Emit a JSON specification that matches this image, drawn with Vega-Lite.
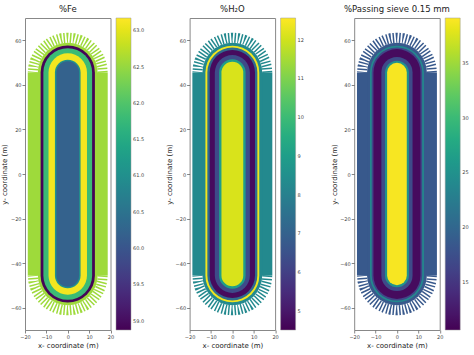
{
  "$schema": "https://vega.github.io/schema/vega-lite/v6.json",
  "padding": {"left": 0, "top": 4, "right": 0, "bottom": 0},
  "datasets": {
    "outer": [
      {"p": "Fe", "x": 0, "y": -45.5, "y2": 45.5, "d": 37.4, "v": 62.55},
      {"p": "H2O", "x": 0, "y": -45.5, "y2": 45.5, "d": 37.4, "v": 8.3},
      {"p": "PS", "x": 0, "y": -45.5, "y2": 45.5, "d": 37.4, "v": 18.5}
    ],
    "bands": [
      {"p": "Fe", "x": 0, "y": -45.5, "y2": 45.5, "d": 28, "v": 62.55},
      {"p": "Fe", "x": 0, "y": -45.5, "y2": 45.5, "d": 25.4, "v": 58.9},
      {"p": "Fe", "x": 0, "y": -45.5, "y2": 45.5, "d": 22.8, "v": 61.8},
      {"p": "Fe", "x": 0, "y": -45.5, "y2": 45.5, "d": 18, "v": 63.1},
      {"p": "Fe", "x": 0, "y": -45.5, "y2": 45.5, "d": 12, "v": 61.0},
      {"p": "Fe", "x": 0, "y": -45.5, "y2": 45.5, "d": 10.6, "v": 60.2},
      {"p": "H2O", "x": 0, "y": -45.5, "y2": 45.5, "d": 28, "v": 8.3},
      {"p": "H2O", "x": 0, "y": -45.5, "y2": 45.5, "d": 25.2, "v": 12.4},
      {"p": "H2O", "x": 0, "y": -45.5, "y2": 45.5, "d": 23.4, "v": 7.3},
      {"p": "H2O", "x": 0, "y": -45.5, "y2": 45.5, "d": 21.2, "v": 4.7},
      {"p": "H2O", "x": 0, "y": -45.5, "y2": 45.5, "d": 16.4, "v": 6.3},
      {"p": "H2O", "x": 0, "y": -45.5, "y2": 45.5, "d": 12.4, "v": 9.0},
      {"p": "H2O", "x": 0, "y": -45.5, "y2": 45.5, "d": 10.2, "v": 12.1},
      {"p": "PS", "x": 0, "y": -45.5, "y2": 45.5, "d": 28, "v": 18.5},
      {"p": "PS", "x": 0, "y": -45.5, "y2": 45.5, "d": 25.2, "v": 24},
      {"p": "PS", "x": 0, "y": -45.5, "y2": 45.5, "d": 23.6, "v": 16.5},
      {"p": "PS", "x": 0, "y": -45.5, "y2": 45.5, "d": 22, "v": 11.3},
      {"p": "PS", "x": 0, "y": -45.5, "y2": 45.5, "d": 14.6, "v": 17},
      {"p": "PS", "x": 0, "y": -45.5, "y2": 45.5, "d": 11.2, "v": 25},
      {"p": "PS", "x": 0, "y": -45.5, "y2": 45.5, "d": 9.2, "v": 38.8}
    ],
    "arcs": [
      {"p": "Fe", "e": "t", "i": 0, "x": 16.35, "y": 45.5, "v": 62.55},
      {"p": "Fe", "e": "t", "i": 1, "x": 16.1, "y": 48.22, "v": 62.55},
      {"p": "Fe", "e": "t", "i": 2, "x": 15.36, "y": 50.86, "v": 62.55},
      {"p": "Fe", "e": "t", "i": 3, "x": 14.16, "y": 53.34, "v": 62.55},
      {"p": "Fe", "e": "t", "i": 4, "x": 12.52, "y": 55.58, "v": 62.55},
      {"p": "Fe", "e": "t", "i": 5, "x": 10.51, "y": 57.51, "v": 62.55},
      {"p": "Fe", "e": "t", "i": 6, "x": 8.18, "y": 59.08, "v": 62.55},
      {"p": "Fe", "e": "t", "i": 7, "x": 5.59, "y": 60.23, "v": 62.55},
      {"p": "Fe", "e": "t", "i": 8, "x": 2.84, "y": 60.94, "v": 62.55},
      {"p": "Fe", "e": "t", "i": 9, "x": 0, "y": 61.18, "v": 62.55},
      {"p": "Fe", "e": "t", "i": 10, "x": -2.84, "y": 60.94, "v": 62.55},
      {"p": "Fe", "e": "t", "i": 11, "x": -5.59, "y": 60.23, "v": 62.55},
      {"p": "Fe", "e": "t", "i": 12, "x": -8.18, "y": 59.08, "v": 62.55},
      {"p": "Fe", "e": "t", "i": 13, "x": -10.51, "y": 57.51, "v": 62.55},
      {"p": "Fe", "e": "t", "i": 14, "x": -12.52, "y": 55.58, "v": 62.55},
      {"p": "Fe", "e": "t", "i": 15, "x": -14.16, "y": 53.34, "v": 62.55},
      {"p": "Fe", "e": "t", "i": 16, "x": -15.36, "y": 50.86, "v": 62.55},
      {"p": "Fe", "e": "t", "i": 17, "x": -16.1, "y": 48.22, "v": 62.55},
      {"p": "Fe", "e": "t", "i": 18, "x": -16.35, "y": 45.5, "v": 62.55},
      {"p": "Fe", "e": "b", "i": 0, "x": 16.35, "y": -45.5, "v": 62.55},
      {"p": "Fe", "e": "b", "i": 1, "x": 16.1, "y": -48.22, "v": 62.55},
      {"p": "Fe", "e": "b", "i": 2, "x": 15.36, "y": -50.86, "v": 62.55},
      {"p": "Fe", "e": "b", "i": 3, "x": 14.16, "y": -53.34, "v": 62.55},
      {"p": "Fe", "e": "b", "i": 4, "x": 12.52, "y": -55.58, "v": 62.55},
      {"p": "Fe", "e": "b", "i": 5, "x": 10.51, "y": -57.51, "v": 62.55},
      {"p": "Fe", "e": "b", "i": 6, "x": 8.18, "y": -59.08, "v": 62.55},
      {"p": "Fe", "e": "b", "i": 7, "x": 5.59, "y": -60.23, "v": 62.55},
      {"p": "Fe", "e": "b", "i": 8, "x": 2.84, "y": -60.94, "v": 62.55},
      {"p": "Fe", "e": "b", "i": 9, "x": 0, "y": -61.18, "v": 62.55},
      {"p": "Fe", "e": "b", "i": 10, "x": -2.84, "y": -60.94, "v": 62.55},
      {"p": "Fe", "e": "b", "i": 11, "x": -5.59, "y": -60.23, "v": 62.55},
      {"p": "Fe", "e": "b", "i": 12, "x": -8.18, "y": -59.08, "v": 62.55},
      {"p": "Fe", "e": "b", "i": 13, "x": -10.51, "y": -57.51, "v": 62.55},
      {"p": "Fe", "e": "b", "i": 14, "x": -12.52, "y": -55.58, "v": 62.55},
      {"p": "Fe", "e": "b", "i": 15, "x": -14.16, "y": -53.34, "v": 62.55},
      {"p": "Fe", "e": "b", "i": 16, "x": -15.36, "y": -50.86, "v": 62.55},
      {"p": "Fe", "e": "b", "i": 17, "x": -16.1, "y": -48.22, "v": 62.55},
      {"p": "Fe", "e": "b", "i": 18, "x": -16.35, "y": -45.5, "v": 62.55},
      {"p": "H2O", "e": "t", "i": 0, "x": 16.35, "y": 45.5, "v": 8.3},
      {"p": "H2O", "e": "t", "i": 1, "x": 16.1, "y": 48.22, "v": 8.3},
      {"p": "H2O", "e": "t", "i": 2, "x": 15.36, "y": 50.86, "v": 8.3},
      {"p": "H2O", "e": "t", "i": 3, "x": 14.16, "y": 53.34, "v": 8.3},
      {"p": "H2O", "e": "t", "i": 4, "x": 12.52, "y": 55.58, "v": 8.3},
      {"p": "H2O", "e": "t", "i": 5, "x": 10.51, "y": 57.51, "v": 8.3},
      {"p": "H2O", "e": "t", "i": 6, "x": 8.18, "y": 59.08, "v": 8.3},
      {"p": "H2O", "e": "t", "i": 7, "x": 5.59, "y": 60.23, "v": 8.3},
      {"p": "H2O", "e": "t", "i": 8, "x": 2.84, "y": 60.94, "v": 8.3},
      {"p": "H2O", "e": "t", "i": 9, "x": 0, "y": 61.18, "v": 8.3},
      {"p": "H2O", "e": "t", "i": 10, "x": -2.84, "y": 60.94, "v": 8.3},
      {"p": "H2O", "e": "t", "i": 11, "x": -5.59, "y": 60.23, "v": 8.3},
      {"p": "H2O", "e": "t", "i": 12, "x": -8.18, "y": 59.08, "v": 8.3},
      {"p": "H2O", "e": "t", "i": 13, "x": -10.51, "y": 57.51, "v": 8.3},
      {"p": "H2O", "e": "t", "i": 14, "x": -12.52, "y": 55.58, "v": 8.3},
      {"p": "H2O", "e": "t", "i": 15, "x": -14.16, "y": 53.34, "v": 8.3},
      {"p": "H2O", "e": "t", "i": 16, "x": -15.36, "y": 50.86, "v": 8.3},
      {"p": "H2O", "e": "t", "i": 17, "x": -16.1, "y": 48.22, "v": 8.3},
      {"p": "H2O", "e": "t", "i": 18, "x": -16.35, "y": 45.5, "v": 8.3},
      {"p": "H2O", "e": "b", "i": 0, "x": 16.35, "y": -45.5, "v": 8.3},
      {"p": "H2O", "e": "b", "i": 1, "x": 16.1, "y": -48.22, "v": 8.3},
      {"p": "H2O", "e": "b", "i": 2, "x": 15.36, "y": -50.86, "v": 8.3},
      {"p": "H2O", "e": "b", "i": 3, "x": 14.16, "y": -53.34, "v": 8.3},
      {"p": "H2O", "e": "b", "i": 4, "x": 12.52, "y": -55.58, "v": 8.3},
      {"p": "H2O", "e": "b", "i": 5, "x": 10.51, "y": -57.51, "v": 8.3},
      {"p": "H2O", "e": "b", "i": 6, "x": 8.18, "y": -59.08, "v": 8.3},
      {"p": "H2O", "e": "b", "i": 7, "x": 5.59, "y": -60.23, "v": 8.3},
      {"p": "H2O", "e": "b", "i": 8, "x": 2.84, "y": -60.94, "v": 8.3},
      {"p": "H2O", "e": "b", "i": 9, "x": 0, "y": -61.18, "v": 8.3},
      {"p": "H2O", "e": "b", "i": 10, "x": -2.84, "y": -60.94, "v": 8.3},
      {"p": "H2O", "e": "b", "i": 11, "x": -5.59, "y": -60.23, "v": 8.3},
      {"p": "H2O", "e": "b", "i": 12, "x": -8.18, "y": -59.08, "v": 8.3},
      {"p": "H2O", "e": "b", "i": 13, "x": -10.51, "y": -57.51, "v": 8.3},
      {"p": "H2O", "e": "b", "i": 14, "x": -12.52, "y": -55.58, "v": 8.3},
      {"p": "H2O", "e": "b", "i": 15, "x": -14.16, "y": -53.34, "v": 8.3},
      {"p": "H2O", "e": "b", "i": 16, "x": -15.36, "y": -50.86, "v": 8.3},
      {"p": "H2O", "e": "b", "i": 17, "x": -16.1, "y": -48.22, "v": 8.3},
      {"p": "H2O", "e": "b", "i": 18, "x": -16.35, "y": -45.5, "v": 8.3},
      {"p": "PS", "e": "t", "i": 0, "x": 16.35, "y": 45.5, "v": 18.5},
      {"p": "PS", "e": "t", "i": 1, "x": 16.1, "y": 48.22, "v": 18.5},
      {"p": "PS", "e": "t", "i": 2, "x": 15.36, "y": 50.86, "v": 18.5},
      {"p": "PS", "e": "t", "i": 3, "x": 14.16, "y": 53.34, "v": 18.5},
      {"p": "PS", "e": "t", "i": 4, "x": 12.52, "y": 55.58, "v": 18.5},
      {"p": "PS", "e": "t", "i": 5, "x": 10.51, "y": 57.51, "v": 18.5},
      {"p": "PS", "e": "t", "i": 6, "x": 8.18, "y": 59.08, "v": 18.5},
      {"p": "PS", "e": "t", "i": 7, "x": 5.59, "y": 60.23, "v": 18.5},
      {"p": "PS", "e": "t", "i": 8, "x": 2.84, "y": 60.94, "v": 18.5},
      {"p": "PS", "e": "t", "i": 9, "x": 0, "y": 61.18, "v": 18.5},
      {"p": "PS", "e": "t", "i": 10, "x": -2.84, "y": 60.94, "v": 18.5},
      {"p": "PS", "e": "t", "i": 11, "x": -5.59, "y": 60.23, "v": 18.5},
      {"p": "PS", "e": "t", "i": 12, "x": -8.18, "y": 59.08, "v": 18.5},
      {"p": "PS", "e": "t", "i": 13, "x": -10.51, "y": 57.51, "v": 18.5},
      {"p": "PS", "e": "t", "i": 14, "x": -12.52, "y": 55.58, "v": 18.5},
      {"p": "PS", "e": "t", "i": 15, "x": -14.16, "y": 53.34, "v": 18.5},
      {"p": "PS", "e": "t", "i": 16, "x": -15.36, "y": 50.86, "v": 18.5},
      {"p": "PS", "e": "t", "i": 17, "x": -16.1, "y": 48.22, "v": 18.5},
      {"p": "PS", "e": "t", "i": 18, "x": -16.35, "y": 45.5, "v": 18.5},
      {"p": "PS", "e": "b", "i": 0, "x": 16.35, "y": -45.5, "v": 18.5},
      {"p": "PS", "e": "b", "i": 1, "x": 16.1, "y": -48.22, "v": 18.5},
      {"p": "PS", "e": "b", "i": 2, "x": 15.36, "y": -50.86, "v": 18.5},
      {"p": "PS", "e": "b", "i": 3, "x": 14.16, "y": -53.34, "v": 18.5},
      {"p": "PS", "e": "b", "i": 4, "x": 12.52, "y": -55.58, "v": 18.5},
      {"p": "PS", "e": "b", "i": 5, "x": 10.51, "y": -57.51, "v": 18.5},
      {"p": "PS", "e": "b", "i": 6, "x": 8.18, "y": -59.08, "v": 18.5},
      {"p": "PS", "e": "b", "i": 7, "x": 5.59, "y": -60.23, "v": 18.5},
      {"p": "PS", "e": "b", "i": 8, "x": 2.84, "y": -60.94, "v": 18.5},
      {"p": "PS", "e": "b", "i": 9, "x": 0, "y": -61.18, "v": 18.5},
      {"p": "PS", "e": "b", "i": 10, "x": -2.84, "y": -60.94, "v": 18.5},
      {"p": "PS", "e": "b", "i": 11, "x": -5.59, "y": -60.23, "v": 18.5},
      {"p": "PS", "e": "b", "i": 12, "x": -8.18, "y": -59.08, "v": 18.5},
      {"p": "PS", "e": "b", "i": 13, "x": -10.51, "y": -57.51, "v": 18.5},
      {"p": "PS", "e": "b", "i": 14, "x": -12.52, "y": -55.58, "v": 18.5},
      {"p": "PS", "e": "b", "i": 15, "x": -14.16, "y": -53.34, "v": 18.5},
      {"p": "PS", "e": "b", "i": 16, "x": -15.36, "y": -50.86, "v": 18.5},
      {"p": "PS", "e": "b", "i": 17, "x": -16.1, "y": -48.22, "v": 18.5},
      {"p": "PS", "e": "b", "i": 18, "x": -16.35, "y": -45.5, "v": 18.5}
    ]
  },
  "hconcat": [
    {
      "width": 85.5, "height": 312,
      "title": {"text": "%Fe"},
      "encoding": {
        "x": {"field": "x", "type": "quantitative", "scale": {"domain": [-20, 20], "nice": false, "zero": false}, "axis": {"values": [-20, -10, 0, 10, 20], "title": "x- coordinate (m)"}},
        "y": {"field": "y", "type": "quantitative", "scale": {"domain": [-70, 70], "nice": false, "zero": false}, "axis": {"values": [-60, -40, -20, 0, 20, 40, 60], "title": "y- coordinate (m)"}},
        "color": {"field": "v", "type": "quantitative", "scale": {"scheme": "viridis", "domain": [58.87, 63.17], "nice": false, "zero": false}, "legend": {"values": [59, 59.5, 60, 60.5, 61, 61.5, 62, 62.5, 63], "format": ".1f", "offset": 5}}
      },
      "layer": [
        {"data": {"name": "outer"}, "transform": [{"filter": "datum.p === 'Fe'"}], "mark": {"type": "rule", "strokeCap": "butt"},
         "encoding": {"y2": {"field": "y2"}, "strokeWidth": {"field": "d", "type": "quantitative", "scale": {"domain": [0, 40], "range": [0, 85.5], "zero": true}, "legend": null}}},
        {"data": {"name": "arcs"}, "transform": [{"filter": "datum.p === 'Fe'"}], "mark": {"type": "line", "strokeWidth": 10, "strokeDash": [1.5, 1.7], "strokeCap": "butt", "strokeJoin": "bevel"},
         "encoding": {"detail": {"field": "e"}, "order": {"field": "i", "type": "quantitative"}}},
        {"data": {"name": "bands"}, "transform": [{"filter": "datum.p === 'Fe'"}], "mark": {"type": "rule", "strokeCap": "round"},
         "encoding": {"y2": {"field": "y2"}, "strokeWidth": {"field": "d", "type": "quantitative", "scale": {"domain": [0, 40], "range": [0, 85.5], "zero": true}, "legend": null}, "order": {"field": "d", "type": "quantitative", "sort": "descending"}}}
      ]
    },
    {
      "width": 85.5, "height": 312,
      "title": {"text": "%H₂O"},
      "encoding": {
        "x": {"field": "x", "type": "quantitative", "scale": {"domain": [-20, 20], "nice": false, "zero": false}, "axis": {"values": [-20, -10, 0, 10, 20], "title": "x- coordinate (m)"}},
        "y": {"field": "y", "type": "quantitative", "scale": {"domain": [-70, 70], "nice": false, "zero": false}, "axis": {"values": [-60, -40, -20, 0, 20, 40, 60], "title": "y- coordinate (m)"}},
        "color": {"field": "v", "type": "quantitative", "scale": {"scheme": "viridis", "domain": [4.5, 12.56], "nice": false, "zero": false}, "legend": {"values": [5, 6, 7, 8, 9, 10, 11, 12], "format": "d", "offset": 5}}
      },
      "layer": [
        {"data": {"name": "outer"}, "transform": [{"filter": "datum.p === 'H2O'"}], "mark": {"type": "rule", "strokeCap": "butt"},
         "encoding": {"y2": {"field": "y2"}, "strokeWidth": {"field": "d", "type": "quantitative", "scale": {"domain": [0, 40], "range": [0, 85.5], "zero": true}, "legend": null}}},
        {"data": {"name": "arcs"}, "transform": [{"filter": "datum.p === 'H2O'"}], "mark": {"type": "line", "strokeWidth": 10, "strokeDash": [1.5, 1.7], "strokeCap": "butt", "strokeJoin": "bevel"},
         "encoding": {"detail": {"field": "e"}, "order": {"field": "i", "type": "quantitative"}}},
        {"data": {"name": "bands"}, "transform": [{"filter": "datum.p === 'H2O'"}], "mark": {"type": "rule", "strokeCap": "round"},
         "encoding": {"y2": {"field": "y2"}, "strokeWidth": {"field": "d", "type": "quantitative", "scale": {"domain": [0, 40], "range": [0, 85.5], "zero": true}, "legend": null}, "order": {"field": "d", "type": "quantitative", "sort": "descending"}}}
      ]
    },
    {
      "width": 85.5, "height": 312,
      "title": {"text": "%Passing sieve 0.15 mm"},
      "encoding": {
        "x": {"field": "x", "type": "quantitative", "scale": {"domain": [-20, 20], "nice": false, "zero": false}, "axis": {"values": [-20, -10, 0, 10, 20], "title": "x- coordinate (m)"}},
        "y": {"field": "y", "type": "quantitative", "scale": {"domain": [-70, 70], "nice": false, "zero": false}, "axis": {"values": [-60, -40, -20, 0, 20, 40, 60], "title": "y- coordinate (m)"}},
        "color": {"field": "v", "type": "quantitative", "scale": {"scheme": "viridis", "domain": [10.6, 39.1], "nice": false, "zero": false}, "legend": {"values": [15, 20, 25, 30, 35], "format": "d", "offset": 5}}
      },
      "layer": [
        {"data": {"name": "outer"}, "transform": [{"filter": "datum.p === 'PS'"}], "mark": {"type": "rule", "strokeCap": "butt"},
         "encoding": {"y2": {"field": "y2"}, "strokeWidth": {"field": "d", "type": "quantitative", "scale": {"domain": [0, 40], "range": [0, 85.5], "zero": true}, "legend": null}}},
        {"data": {"name": "arcs"}, "transform": [{"filter": "datum.p === 'PS'"}], "mark": {"type": "line", "strokeWidth": 10, "strokeDash": [1.5, 1.7], "strokeCap": "butt", "strokeJoin": "bevel"},
         "encoding": {"detail": {"field": "e"}, "order": {"field": "i", "type": "quantitative"}}},
        {"data": {"name": "bands"}, "transform": [{"filter": "datum.p === 'PS'"}], "mark": {"type": "rule", "strokeCap": "round"},
         "encoding": {"y2": {"field": "y2"}, "strokeWidth": {"field": "d", "type": "quantitative", "scale": {"domain": [0, 40], "range": [0, 85.5], "zero": true}, "legend": null}, "order": {"field": "d", "type": "quantitative", "sort": "descending"}}}
      ]
    }
  ],
  "spacing": 78.6,
  "bounds": "flush",
  "resolve": {"scale": {"color": "independent", "x": "independent", "y": "independent"}, "legend": {"color": "independent"}},
  "config": {
    "font": "DejaVu Sans",
    "view": {"stroke": "#888", "strokeWidth": 1},
    "axis": {"grid": false, "domain": false, "tickSize": 3, "tickColor": "#666", "tickWidth": 0.8, "labelFontSize": 5, "labelColor": "#444", "labelPadding": 1, "titleFontSize": 7, "titleFontWeight": "normal", "titleColor": "#222", "titlePadding": 2.5, "labelFlush": false},
    "legend": {"title": null, "orient": "right", "direction": "vertical", "gradientLength": 312, "gradientThickness": 15, "offset": 5, "padding": 0, "labelFontSize": 5, "labelColor": "#444", "labelOffset": 3, "labelOverlap": false, "gradientStrokeColor": "#999", "gradientStrokeWidth": 0.5},
    "title": {"fontSize": 8.5, "fontWeight": "normal", "color": "#222", "offset": 5, "anchor": "middle", "frame": "group"}
  }
}
